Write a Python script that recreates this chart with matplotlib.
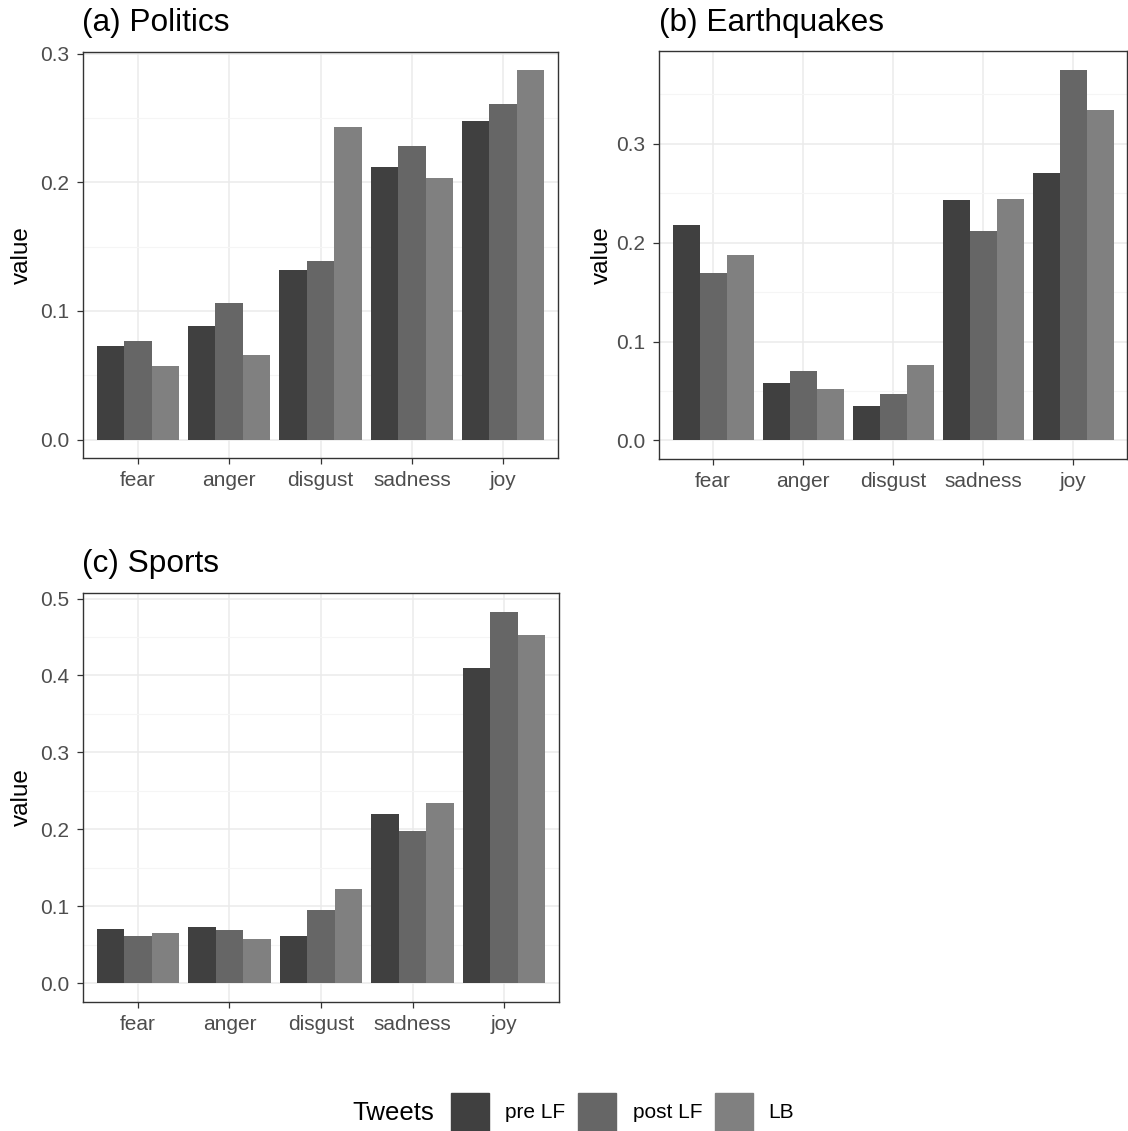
import matplotlib
matplotlib.use("Agg")
import matplotlib.pyplot as plt
import numpy as np
from matplotlib.patches import Rectangle
from matplotlib.ticker import MultipleLocator, FormatStrFormatter

plt.rcParams['font.family'] = ['Liberation Sans', 'DejaVu Sans']

emotions = ["fear", "anger", "disgust", "sadness", "joy"]
series = ["pre LF", "post LF", "LB"]
colors = ["#404040", "#666666", "#808080"]

# values per emotion, one list per tweet group
politics_pre = [0.073, 0.088, 0.132, 0.212, 0.248]
politics_post = [0.077, 0.106, 0.139, 0.228, 0.261]
politics_lb = [0.057, 0.066, 0.243, 0.203, 0.287]

quakes_pre = [0.218, 0.058, 0.035, 0.243, 0.270]
quakes_post = [0.169, 0.070, 0.047, 0.212, 0.375]
quakes_lb = [0.187, 0.052, 0.076, 0.244, 0.334]

sports_pre = [0.071, 0.073, 0.062, 0.220, 0.410]
sports_post = [0.061, 0.070, 0.095, 0.198, 0.483]
sports_lb = [0.065, 0.058, 0.123, 0.234, 0.452]

panels = [
    ("(a) Politics", [politics_pre, politics_post, politics_lb]),
    ("(b) Earthquakes", [quakes_pre, quakes_post, quakes_lb]),
    ("(c) Sports", [sports_pre, sports_post, sports_lb]),
]

W, H = 1128, 1131
fig = plt.figure(figsize=(W / 100, H / 100), dpi=100)

# panel boxes in pixels: left, top, right, bottom
boxes = [(83, 52, 558, 458), (659, 51, 1127, 459), (83, 593, 559, 1002)]
title_pos = [(82, 31), (659, 31), (82, 572)]
ylab_x = [22, 602, 22]

grid_major = "#EBEBEB"
grid_minor = "#F5F5F5"
border = "#333333"
tick_col = "#4D4D4D"

for i, (title, vals) in enumerate(panels):
    l, t, r, b = boxes[i]
    ax = fig.add_axes([l / W, 1 - b / H, (r - l) / W, (b - t) / H])
    x = np.arange(len(emotions))
    bw = 0.3
    for j, s in enumerate(series):
        ax.bar(x + (j - 1) * bw, vals[j], width=bw, color=colors[j], label=s, zorder=3)
    vmax = max(max(v) for v in vals)
    ax.set_ylim(-0.05 * vmax, 1.05 * vmax)
    ax.set_xlim(-0.6, len(emotions) - 0.4)
    ax.set_xticks(x)
    ax.set_xticklabels(emotions)
    ax.yaxis.set_major_locator(MultipleLocator(0.1))
    ax.yaxis.set_minor_locator(MultipleLocator(0.05))
    ax.yaxis.set_major_formatter(FormatStrFormatter("%.1f"))
    ax.grid(True, which="major", color=grid_major, lw=1.1, zorder=0)
    ax.grid(True, which="minor", axis="y", color=grid_minor, lw=0.8, zorder=0)
    ax.set_axisbelow(True)
    ax.tick_params(which="major", length=4.2, width=0.9, color=border,
                   labelcolor=tick_col, labelsize=15)
    ax.tick_params(axis="x", pad=5.5)
    ax.tick_params(axis="y", pad=5.8)
    ax.tick_params(which="minor", length=0)
    for sp in ax.spines.values():
        sp.set_color(border)
        sp.set_linewidth(1.0)

    tx, ty = title_pos[i]
    fig.text(tx / W, 1 - ty / H, title, fontsize=22.8, va="baseline", ha="left")
    fig.text(ylab_x[i] / W, 1 - ((t + b) / 2) / H, "value", fontsize=17.5,
             rotation=90, va="center", ha="center")

# legend along the bottom
fig.text(352 / W, 1 - 1113 / H, "Tweets", fontsize=18.5, va="center", ha="left")
key_x = [451, 578, 715]
lab_x = [505, 633, 768]
for k, s in enumerate(series):
    fig.add_artist(Rectangle((key_x[k] / W, 1 - 1131 / H), 38 / W, 38 / H,
                             transform=fig.transFigure, color=colors[k]))
    fig.text(lab_x[k] / W, 1 - 1113 / H, s, fontsize=15, va="center", ha="left")

fig.savefig("out.png", dpi=100)
